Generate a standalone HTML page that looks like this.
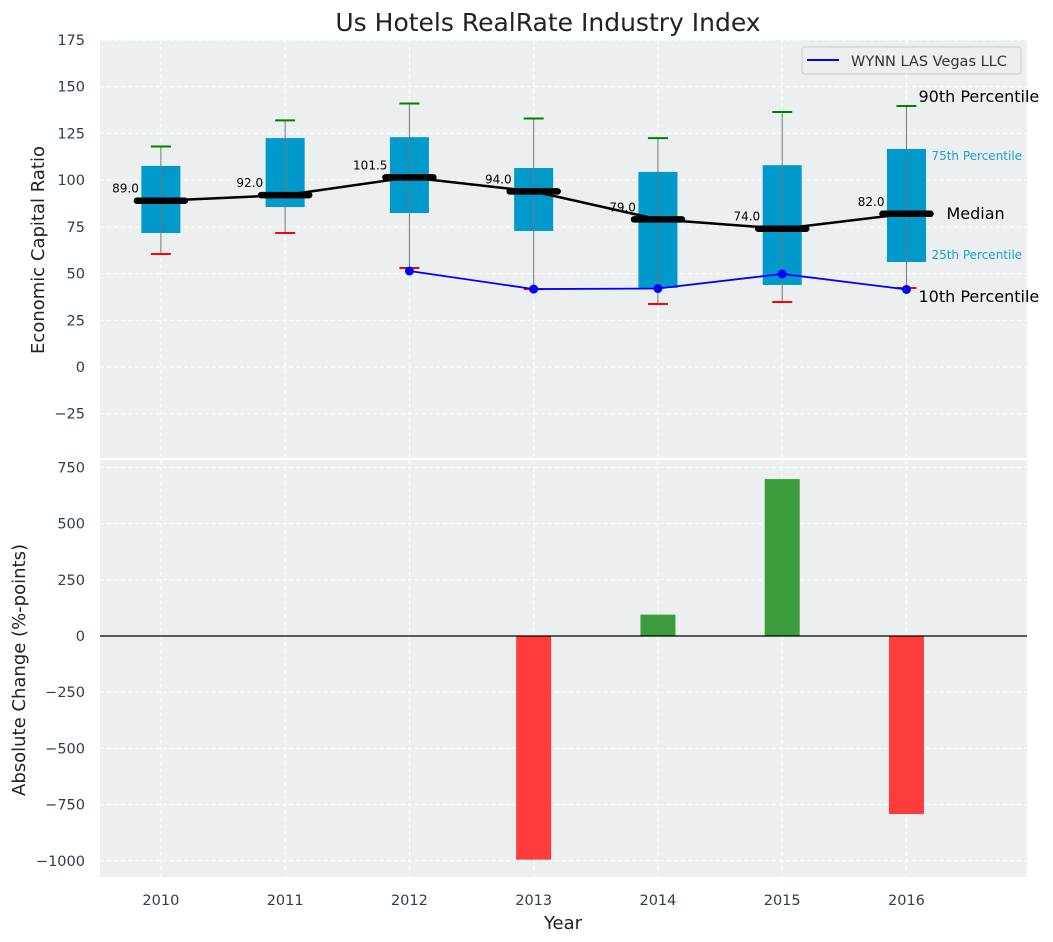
<!DOCTYPE html>
<html><head><meta charset="utf-8">
<style>
body{margin:0;background:#fff;}
svg{display:block;font-family:"DejaVu Sans","Liberation Sans",sans-serif;}
</style></head>
<body>
<svg id="chart" width="1053" height="942" viewBox="0 0 1053 942"></svg>
<script>
const years = [2010,2011,2012,2013,2014,2015,2016];
const p90 = [118,132,141,133,122.5,136.5,139.7];
const q3 = [107.6,122.5,123,106.5,104.4,108,116.7];
const medians = [89,92,101.5,94,79,74,82];
const q1 = [71.7,85.6,82.4,72.8,42.3,43.9,56.2];
const p10 = [60.5,71.7,53,41.7,33.7,34.8,42.3];
const companyYears = [2012,2013,2014,2015,2016];
const companyValues = [51.4,41.7,42,49.8,41.5];
const changeYears = [2013,2014,2015,2016];
const changeValues = [-995,95,698,-792];
const topTicks = [-25,0,25,50,75,100,125,150,175];
const bottomTicks = [-1000,-750,-500,-250,0,250,500,750];

const NS="http://www.w3.org/2000/svg";
const svg=document.getElementById('chart');
function el(tag,attrs,parent){const e=document.createElementNS(NS,tag);for(const k in attrs)e.setAttribute(k,attrs[k]);(parent||svg).appendChild(e);return e;}
const L=100,R=1027;
const xS=y=>L+(y-2009.51)*(R-L)/(2016.97-2009.51);
const T0=40,T1=458, yT=v=>367-v*(327/175);
const B0=460,B1=877, yB=v=>636-v*0.2248;
const tick="#2c3e50";

let p=el('rect',{x:L,y:T0,width:R-L,height:T1-T0,fill:'#ebeff0'});

p=el('rect',{x:L,y:B0,width:R-L,height:B1-B0,fill:'#ebeff0'});


years.forEach(y=>{
  let g=el('line',{x1:xS(y),x2:xS(y),y1:T0,y2:T1,stroke:'#fff','stroke-dasharray':'4,3','stroke-width':1});
  
  g=el('line',{x1:xS(y),x2:xS(y),y1:B0,y2:B1,stroke:'#fff','stroke-dasharray':'4,3','stroke-width':1});
  
  const t=el('text',{x:xS(y),y:905,'text-anchor':'middle','font-size':14.5,fill:tick});t.textContent=y;
  
});
topTicks.forEach(v=>{
  const g=el('line',{x1:L,x2:R,y1:yT(v),y2:yT(v),stroke:'#fff','stroke-dasharray':'4,3'});
  
  const t=el('text',{x:85,y:yT(v)+5,'text-anchor':'end','font-size':14.5,fill:tick});t.textContent=v<0?'\u2212'+(-v):v;
  
});
bottomTicks.forEach(v=>{
  const g=el('line',{x1:L,x2:R,y1:yB(v),y2:yB(v),stroke:'#fff','stroke-dasharray':'4,3'});
  
  const t=el('text',{x:85,y:yB(v)+5,'text-anchor':'end','font-size':14.5,fill:tick});t.textContent=v<0?'\u2212'+(-v):v;
  
});

years.forEach((y,i)=>{
  const x=xS(y);
  const b=el('rect',{x:x-19.5,y:yT(q3[i]),width:39,height:yT(q1[i])-yT(q3[i]),fill:'#0099cc'});
  
  const w=el('line',{x1:x,x2:x,y1:yT(p90[i]),y2:yT(p10[i]),stroke:'#777','stroke-width':1});
  
  const c1=el('line',{x1:x-10,x2:x+10,y1:yT(p90[i]),y2:yT(p90[i]),stroke:'green','stroke-width':2});
  
  const c2=el('line',{x1:x-10,x2:x+10,y1:yT(p10[i]),y2:yT(p10[i]),stroke:'red','stroke-width':2});
  
});
const ml=el('polyline',{points:years.map((y,i)=>xS(y)+','+yT(medians[i])).join(' '),fill:'none',stroke:'#000','stroke-width':2.5});

years.forEach((y,i)=>{
  const x=xS(y);
  const m=el('line',{x1:x-24,x2:x+24,y1:yT(medians[i]),y2:yT(medians[i]),stroke:'#000','stroke-width':6.5,'stroke-linecap':'round'});
  
  const t=el('text',{x:x-22,y:yT(medians[i])-8,'text-anchor':'end','font-size':12,fill:'#000'});t.textContent=medians[i].toFixed(1);
  
});
const cl=el('polyline',{points:companyYears.map((y,i)=>xS(y)+','+yT(companyValues[i])).join(' '),fill:'none',stroke:'#0000ff','stroke-width':1.8});

companyYears.forEach((y,i)=>{
  const d=el('circle',{cx:xS(y),cy:yT(companyValues[i]),r:4.5,fill:'#0000ff'});
  
});
const last=years.length-1, lx=xS(years[last]);
[[p90[last],'90th Percentile',16,'#000',lx+12,-4],[medians[last],'Median',16,'#000',lx+40,5],
 [q3[last],'75th Percentile',12,'#1ea0d0',lx+25,11],[q1[last],'25th Percentile',12,'#1ea0d0',lx+25,-3],
 [p10[last],'10th Percentile',16,'#000',lx+12,14]].forEach(a=>{
  const t=el('text',{x:a[4],y:yT(a[0])+a[5],'font-size':a[2],fill:a[3]});t.textContent=a[1];
  
});
const lg=el('g',{});
el('rect',{x:802,y:47,width:219,height:27,rx:3,fill:'#ebeff0',stroke:'#ccc'},lg);
el('line',{x1:807,x2:839,y1:60,y2:60,stroke:'#0000ff','stroke-width':2},lg);
const lt=el('text',{x:851,y:66,'font-size':14.5,fill:'#333'},lg);lt.textContent='WYNN LAS Vegas LLC';

const barW=35;
changeYears.forEach((y,i)=>{
  const v=changeValues[i];
  const b=el('rect',{x:xS(y)-barW/2,y:Math.min(yB(v),yB(0)),width:barW,height:Math.abs(yB(v)-yB(0)),fill:v<0?'#ff3c3c':'#3a9c3a'});
  
});
const z=el('line',{x1:L,x2:R,y1:yB(0),y2:yB(0),stroke:'#000','stroke-width':1.2});


let t=el('text',{x:548,y:31,'text-anchor':'middle','font-size':25,fill:'#222'});t.textContent='Us Hotels RealRate Industry Index';

t=el('text',{x:563,y:929,'text-anchor':'middle','font-size':18,fill:'#222'});t.textContent='Year';

t=el('text',{x:0,y:0,'text-anchor':'middle','font-size':18,fill:'#222',transform:'translate(44,250) rotate(-90)'});t.textContent='Economic Capital Ratio';

t=el('text',{x:0,y:0,'text-anchor':'middle','font-size':18,fill:'#222',transform:'translate(25,670) rotate(-90)'});t.textContent='Absolute Change (%-points)';

</script>
</body></html>
